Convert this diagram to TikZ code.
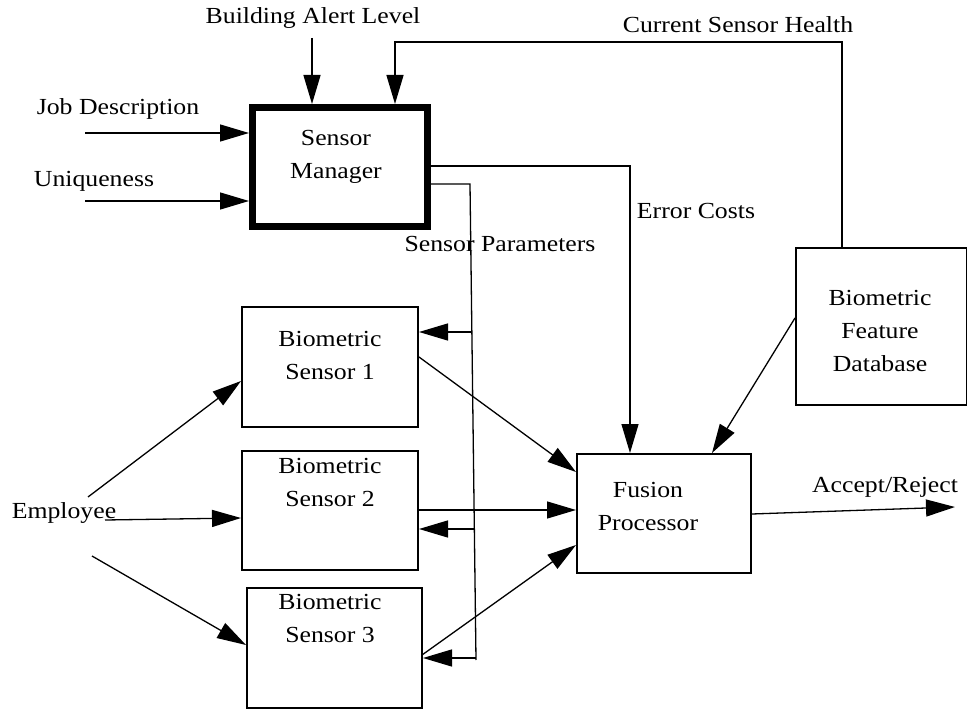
\documentclass[tikz,border=0pt]{standalone}
\usepackage{fontspec}
\setmainfont[FakeStretch=1.12]{Liberation Serif}
\usetikzlibrary{arrows.meta}
\begin{document}
\begin{tikzpicture}[x=1pt,y=-1pt,
  lbl/.style={font=\fontsize{23}{33}\selectfont, align=center, inner sep=0pt},
  box/.style={draw, line width=2pt, inner sep=0pt, anchor=north west},
  wire/.style={line width=1.3pt},
  arr/.style={wire, -{Triangle[length=29pt,width=17pt]}}]
\useasboundingbox (0,0) rectangle (967,711);

% blocks
\node[box, line width=7pt, minimum width=175pt, minimum height=119pt] (sm) at (249,104) {};
\node[box, minimum width=176pt, minimum height=120pt] (s1) at (241,306) {};
\node[box, minimum width=176pt, minimum height=119pt] (s2) at (241,450) {};
\node[box, minimum width=175pt, minimum height=120pt] (s3) at (246,587) {};
\node[box, minimum width=174pt, minimum height=119pt] (fp) at (576,453) {};
\node[box, minimum width=171pt, minimum height=157pt] (db) at (795,247) {};

% block captions
\node[lbl] (smt) at (336,157) {Sensor\\Manager};
\node[lbl] (s1t) at (330,355) {Biometric\\Sensor 1};
\node[lbl] (s2t) at (330,482) {Biometric\\Sensor 2};
\node[lbl] (s3t) at (330,618) {Biometric\\Sensor 3};
\node[lbl] (fpt) at (648,506) {Fusion\\Processor};
\node[lbl] (dbt) at (880,331) {Biometric\\Feature\\Database};

% signal labels
\node[lbl] (bal) at (313,18) {Building Alert Level};
\node[lbl] (csh) at (738,25) {Current Sensor Health};
\node[lbl] (job) at (118,109) {Job Description};
\node[lbl] (uni) at (94,181) {Uniqueness};
\node[lbl] (ec) at (696,211) {Error Costs};
\node[lbl] (sp) at (500,244) {Sensor Parameters};
\node[lbl] (emp) at (64,513) {Employee};
\node[lbl] (ar) at (885,487) {Accept/Reject};

% routing points
\coordinate (balS) at (312,38);
\coordinate (jobS) at (85,133);
\coordinate (uniS) at (85,201);
\coordinate (cshA) at (842,42);
\coordinate (cshB) at (395,42);
\coordinate (ecA) at (630,166);
\coordinate (spA) at (470,184);
\coordinate (spB) at (476,660);
\coordinate (p1) at (471,332);
\coordinate (p2) at (474,529);
\coordinate (p3) at (476,658);
\coordinate (e1) at (88,497);
\coordinate (e2) at (105,520);
\coordinate (e3) at (92,556);
\coordinate (out) at (955,507);

% inputs to the sensor manager
\draw[arr] (balS) -- (balS |- sm.north);
\draw[arr] (jobS) -- (jobS -| sm.west);
\draw[arr] (uniS) -- (uniS -| sm.west);
\draw[arr] (db.north -| cshA) -- (cshA) -- (cshB) -- (cshB |- sm.north);

% error costs
\draw[arr] (sm.east |- ecA) -- (ecA) -- (ecA |- fp.north);

% sensor parameter bus
\draw[wire] (sm.east |- spA) -- (spA) -- (spB);
\draw[arr] (p1) -- (p1 -| s1.east);
\draw[arr] (p2) -- (p2 -| s2.east);
\draw[arr] (p3) -- (p3 -| s3.east);

% employee to sensors
\draw[arr] (e1) -- (s1.west |- 0,381);
\draw[arr] (e2) -- (s2.west |- 0,518);
\draw[arr] (e3) -- (s3.west |- 0,645);

% sensors and database to fusion
\draw[arr] (419,357) -- (fp.west |- 0,472);
\draw[arr] (s2.east |- 0,510) -- (fp.west |- 0,510);
\draw[arr] (422,655) -- (fp.west |- 0,545);
\draw[arr] (db.west |- 0,318) -- (712,453);

% decision output
\draw[arr] (fp.east |- 0,514) -- (out);
\end{tikzpicture}
\end{document}
